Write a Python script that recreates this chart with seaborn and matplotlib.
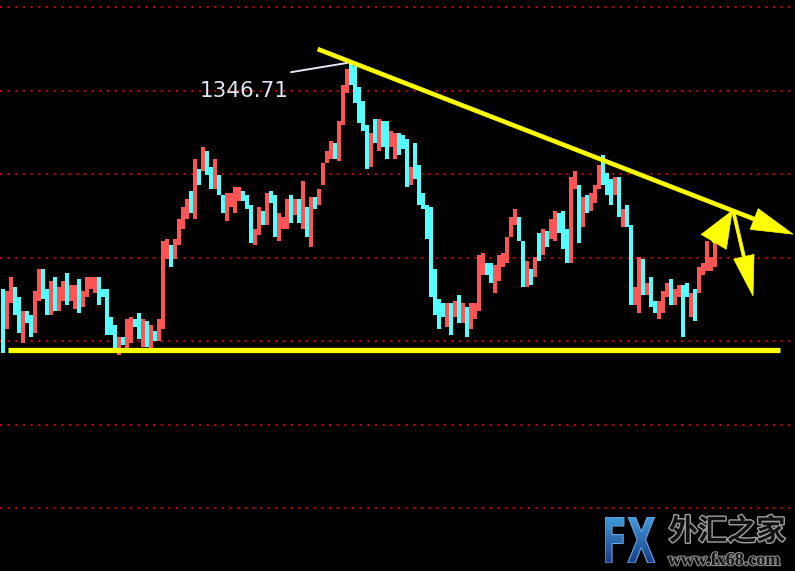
import matplotlib
matplotlib.use('Agg')

import matplotlib.pyplot as plt
import matplotlib.patheffects as pe
import numpy as np
import pandas as pd
import seaborn as sns
from matplotlib.colors import LinearSegmentedColormap
from matplotlib.font_manager import FontProperties
from matplotlib.patches import PathPatch
from matplotlib.textpath import TextPath
from matplotlib.transforms import Affine2D


# ---------------------------------------------------
# Data (one bar ~ 4px)
# ---------------------------------------------------

opens = [
    1292.4, 1282.9, 1289.2, 1292.9, 1290.6, 1279.5, 1287.2, 1286.2, 1281.9, 1289.6,
    1297.3, 1292.5, 1286.2, 1295.3, 1287.2, 1289.6, 1296.3, 1289.6, 1287.7, 1294.9,
    1288.2, 1290.6, 1292.5, 1291.5, 1295.3, 1292.5, 1292.5, 1285.8, 1283.9, 1276.7,
    1281.0, 1278.1, 1279.5, 1285.3, 1286.7, 1278.6, 1284.8, 1278.1, 1282.4, 1280.0,
    1282.9, 1299.7,
    1303.0, 1299.7, 1303.0, 1306.9, 1309.2, 1315.9, 1309.2, 1321.2, 1320.7, 1325.5,
    1321.7, 1316.4, 1319.8, 1315.0, 1308.8, 1312.1, 1310.7, 1313.5, 1315.9, 1315.0,
    1312.6, 1303.0, 1305.4, 1311.1, 1307.8, 1315.9, 1315.0, 1304.0, 1306.8, 1306.8,
    1315.0, 1310.2, 1314.0, 1306.8, 1312.1, 1302.5, 1314.5, 1312.6, 1317.4, 1322.6,
    1323.6, 1327.4, 1323.1, 1331.7, 1339.4, 1346.7, 1345.8, 1340.8, 1337.5, 1331.7,
    1321.7, 1333.2, 1325.5, 1332.7, 1332.7, 1326.5, 1323.6,
    1329.8, 1329.3, 1328.4, 1317.4, 1327.4, 1322.2, 1315.5, 1312.6, 1312.1, 1297.3,
    1290.1,
    1289.1, 1283.4, 1289.1, 1285.8, 1291.0, 1284.3, 1288.2, 1282.9, 1285.3, 1287.2,
    1295.8, 1298.7, 1298.7, 1291.5, 1294.4, 1297.7, 1298.7, 1304.9, 1307.8, 1309.7,
    1304.0, 1293.0, 1297.3, 1295.3, 1305.9, 1300.6, 1306.4, 1304.4, 1304.0, 1310.7,
    1311.1, 1306.8, 1298.7, 1316.4, 1317.4, 1307.3, 1315.0, 1311.1, 1313.1, 1316.4,
    1324.6, 1320.2, 1318.8, 1315.0, 1319.3, 1307.3, 1312.6, 1307.8, 1288.6, 1286.7,
    1299.7, 1291.0, 1295.3, 1289.6, 1285.3, 1286.7, 1290.6, 1294.9, 1288.6, 1290.6,
    1293.4, 1293.9, 1285.8, 1292.5, 1291.5, 1295.8, 1296.8, 1296.8, 1297.7, 1305.4,
]

closes = [
    1277.1, 1292.0, 1295.3, 1286.2, 1281.9, 1287.2, 1284.3, 1281.0, 1292.0, 1297.3,
    1290.1, 1286.2, 1294.4, 1287.2, 1293.0, 1294.4, 1288.6, 1293.4, 1293.4, 1286.7,
    1292.0, 1295.3, 1295.3, 1295.3, 1288.6, 1290.6, 1281.5, 1281.5, 1278.1, 1281.0,
    1279.1, 1285.3, 1285.8, 1283.4, 1280.5, 1285.3, 1278.6, 1283.9, 1280.0, 1285.3,
    1304.0, 1304.4,
    1297.7, 1304.4, 1309.2, 1312.1, 1314.0, 1310.7, 1323.6, 1317.4, 1326.5, 1319.8,
    1316.4, 1323.6, 1315.0, 1310.7, 1315.5, 1315.5, 1316.9, 1316.9, 1313.5, 1311.6,
    1303.5, 1306.8, 1312.1, 1307.8, 1315.5, 1313.1, 1304.9, 1310.7, 1309.7, 1314.0,
    1308.3, 1314.0, 1308.3, 1318.3, 1304.9, 1314.5, 1311.6, 1316.4, 1322.6, 1325.5,
    1327.9, 1323.6, 1332.7, 1341.3, 1345.2, 1341.3, 1337.0, 1332.2, 1330.3, 1321.2,
    1329.8, 1327.4, 1333.2, 1326.5, 1323.6, 1330.3, 1329.8,
    1324.6, 1326.0, 1316.9, 1321.7, 1318.8, 1312.6, 1311.6, 1304.4, 1290.5, 1286.2,
    1282.9,
    1285.8, 1289.1, 1281.5, 1289.6, 1284.3, 1289.1, 1281.0, 1289.1, 1289.1, 1300.6,
    1301.1, 1295.8, 1293.9, 1298.2, 1300.6, 1301.1, 1304.9, 1309.7, 1311.6, 1304.0,
    1293.0, 1299.2, 1293.4, 1300.1, 1299.2, 1306.8, 1302.5, 1309.2, 1311.1, 1305.9,
    1302.0, 1298.7, 1319.3, 1320.7, 1303.5, 1314.5, 1310.7, 1315.5, 1317.4, 1322.2,
    1317.4, 1315.0, 1312.6, 1319.3, 1309.7, 1311.6, 1307.3, 1288.6, 1292.9, 1300.1,
    1291.0, 1293.9, 1288.2, 1286.7, 1289.6, 1292.0, 1293.9, 1288.6, 1292.5, 1293.4,
    1281.0, 1290.6, 1291.5, 1284.8, 1297.7, 1298.7, 1304.0, 1300.1, 1305.9, 1303.5,
]

grid_levels = [1240, 1260, 1280, 1300, 1320, 1340, 1360]

support_level = 1277.9
support_span = (1.25, 194.25)

trend_start = (78.75, 1349.9)
trend_end = (197.5, 1305.6)
up_arrow = ((177.6, 1303.6), (182.3, 1311.2))
down_arrow = ((182.5, 1311.4), (187.5, 1290.8))

peak_label = '1346.71'
peak_label_pos = (49.25, 1338.45)
leader_x = [72.0, 86.0]
leader_y = [1344.4, 1346.6]

UP = '#ff5454'
DOWN = '#55ffff'
YELLOW = '#ffff00'


# ---------------------------------------------------
# Candles
# ---------------------------------------------------

df = pd.DataFrame({'open': opens, 'close': closes})
df['bar'] = np.arange(len(df))
df['low'] = df[['open', 'close']].min(axis=1)
df['height'] = (df['close'] - df['open']).abs().clip(lower=0.4)
df['color'] = np.where(df['close'] >= df['open'], UP, DOWN)

sns.set_theme(style='dark', rc={'axes.facecolor': 'black',
                                'figure.facecolor': 'black'})

fig = plt.figure(figsize=(7.95, 5.71), dpi=100, facecolor='black')
ax = fig.add_axes([0, 0, 1, 1])
ax.set_xlim(-0.75, 198)
ax.set_ylim(1224.93, 1361.68)
ax.axis('off')

for lvl in grid_levels:
    ax.axhline(lvl, color='#cc0000', lw=1.45,
               linestyle=(0, (1.0, 2.8)), zorder=1)

ax.bar(df['bar'], df['height'], bottom=df['low'], width=1.0,
       color=df['color'], linewidth=0, antialiased=False, zorder=2)


# ---------------------------------------------------
# Trend lines / arrows
# ---------------------------------------------------

ax.plot(support_span, [support_level, support_level],
        color=YELLOW, lw=3.8, solid_capstyle='butt', zorder=3)


def arrow(start, end, hl, hw, tw):
    style = f'simple,head_length={hl},head_width={hw},tail_width={tw}'
    ax.annotate('', xy=end, xytext=start,
                arrowprops=dict(arrowstyle=style, fc=YELLOW, ec=YELLOW,
                                lw=0.5, shrinkA=0, shrinkB=0,
                                mutation_scale=10),
                zorder=4)


arrow(trend_start, trend_end, 3.0, 1.6, 0.28)
arrow(down_arrow[0], down_arrow[1], 2.9, 1.5, 0.22)
arrow(up_arrow[0], up_arrow[1], 2.6, 2.1, 0.22)

ax.plot(leader_x, leader_y, color='#e6e6f8', lw=1.4, zorder=4)
ax.text(peak_label_pos[0], peak_label_pos[1], peak_label,
        color='#dfe6f5', fontsize=15.5, ha='left', va='baseline',
        family='DejaVu Sans', zorder=5)


# ---------------------------------------------------
# Watermark
# ---------------------------------------------------

wm = fig.add_axes([605 / 795, 8 / 571, 50 / 795, 46 / 571])
wm.axis('off')
wm.set_xlim(0, 1)
wm.set_ylim(0, 1)
grad = np.linspace(0, 1, 64).reshape(-1, 1)
cmap = LinearSegmentedColormap.from_list('fx', ['#1a3c8a', '#3f9ad8'])
im = wm.imshow(grad, cmap=cmap, aspect='auto', extent=[0, 1, 0, 1],
               origin='lower')
tp = TextPath((0, 0), 'FX', size=10,
              prop=FontProperties(family='DejaVu Sans', weight='bold'))
ext = tp.get_extents()
fx_path = Affine2D().translate(-ext.x0, -ext.y0).scale(
    1 / ext.width, 1 / ext.height).transform_path(tp)
fx_patch = PathPatch(fx_path, transform=wm.transData, facecolor='none',
                     edgecolor='#6aa6dc', lw=0.8)
wm.add_patch(fx_patch)
im.set_clip_path(fx_patch)

outline = [pe.Stroke(linewidth=2, foreground='#a0a0a0'), pe.Normal()]
fig.text(727 / 795, 1 - 531 / 571, '外汇之家', ha='center', va='center',
         fontsize=21, weight='bold', color='#111111',
         family=['Noto Sans CJK SC', 'DejaVu Sans'], path_effects=outline)
fig.text(668 / 795, 1 - 565 / 571, 'www.fx68.com', ha='left', va='baseline',
         fontsize=13, weight='bold', color='#151515',
         family='Liberation Serif',
         path_effects=[pe.Stroke(linewidth=1.6, foreground='#8c8c8c'),
                       pe.Normal()])

fig.savefig('out.png', dpi=100, facecolor='black')
plt.close(fig)
